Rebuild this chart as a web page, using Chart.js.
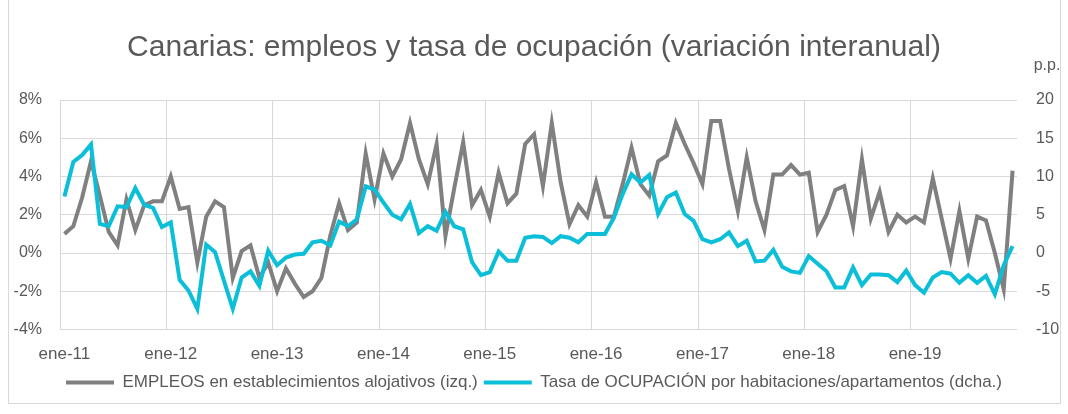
<!DOCTYPE html>
<html>
<head>
<meta charset="utf-8">
<script src="https://cdn.jsdelivr.net/npm/chart.js@4.4.1/dist/chart.umd.min.js"></script>
<style>
  html, body { margin: 0; padding: 0; background: #fff; }
  #wrap { position: relative; width: 1068px; height: 414px; }
  #frame { position: absolute; left: 8px; top: -2px; width: 1051px; height: 404px; border: 1px solid #d9d9d9; pointer-events: none; }
</style>
</head>
<body>
<div id="wrap">
  <canvas id="chart" width="1068" height="414"></canvas>
  <div id="frame"></div>
</div>
<script>
const month_names = ['ene', 'feb', 'mar', 'abr', 'may', 'jun', 'jul', 'ago', 'sep', 'oct', 'nov', 'dic']
const years = ['11', '12', '13', '14', '15', '16', '17', '18', '19']

// EMPLEOS en establecimientos alojativos, % interanual (eje izq.)
const empleos = [
	1.0, 1.4, 2.9, 4.8, 3.0, 1.1, 0.4, 2.8, 1.2, 2.5, 2.7, 2.7,
	4.0, 2.3, 2.4, -0.5, 1.9, 2.7, 2.4, -1.3, 0.1, 0.4, -1.3, -0.5,
	-2.0, -0.8, -1.6, -2.3, -2.0, -1.3, 0.9, 2.6, 1.2, 1.6, 5.2, 2.8,
	5.2, 4.0, 4.9, 6.8, 4.9, 3.6, 5.7, 0.9, 3.4, 5.8, 2.5, 3.3,
	1.9, 4.2, 2.6, 3.1, 5.7, 6.2, 3.5, 6.8, 3.7, 1.5, 2.5, 1.9,
	3.7, 1.9, 1.9, 3.6, 5.5, 3.6, 3.0, 4.8, 5.1, 6.8, 5.7, 4.7,
	3.6, 6.9, 6.9, 4.4, 2.2, 5.0, 2.7, 1.2, 4.1, 4.1, 4.6, 4.1,
	4.2, 1.1, 2.0, 3.3, 3.5, 1.4, 4.9, 1.8, 3.2, 1.1, 2.0, 1.6,
	1.9, 1.6, 3.9, 1.8, -0.3, 2.2, -0.3, 1.9, 1.7, 0.0, -1.9, 4.3
]

// Tasa de OCUPACIÓN por habitaciones/apartamentos, p.p. (eje dcha.)
const ocupacion = [
	7.4, 11.9, 12.8, 14.2, 3.8, 3.5, 6.1, 6.0, 8.5, 6.3, 5.9, 3.4,
	4.0, -3.5, -4.9, -7.3, 1.1, 0.1, -3.6, -7.3, -3.2, -2.4, -4.3, 0.3,
	-1.6, -0.6, -0.2, -0.1, 1.4, 1.6, 1.0, 4.1, 3.5, 4.4, 8.7, 8.3,
	6.6, 5.0, 4.4, 6.4, 2.6, 3.5, 2.9, 5.4, 3.5, 3.1, -1.2, -2.9,
	-2.5, 0.2, -1.0, -1.0, 2.0, 2.2, 2.1, 1.3, 2.2, 2.0, 1.4, 2.5,
	2.5, 2.5, 4.6, 7.7, 10.3, 9.2, 10.2, 5.1, 7.3, 7.9, 5.1, 4.2,
	1.8, 1.4, 1.8, 2.7, 0.9, 1.6, -1.1, -1.0, 0.4, -1.8, -2.4, -2.6,
	-0.4, -1.4, -2.4, -4.5, -4.5, -1.9, -4.2, -2.8, -2.8, -2.9, -3.8, -2.3,
	-4.2, -5.2, -3.2, -2.5, -2.7, -3.9, -2.9, -3.9, -3.0, -5.4, -1.6, 0.9
]

const labels = []
years.forEach(y => month_names.forEach(m => labels.push(`${m}-${y}`)))

const gray = '#808080'
const cyan = '#0bbfd8'
const text_color = '#595959'
const grid_color = '#d9d9d9'
const font_family = '"Liberation Sans", Arial, sans-serif'

// "p.p." sobre el eje derecho
const ppLabel = {
	id: 'ppLabel',
	afterDraw(chart) {
		const ctx = chart.ctx
		const y1 = chart.scales.y1
		ctx.save()
		ctx.fillStyle = text_color
		ctx.font = `16px ${font_family}`
		ctx.textAlign = 'center'
		ctx.textBaseline = 'middle'
		ctx.fillText('p.p.', y1.left + 30, 66)
		ctx.restore()
	}
}

new Chart(document.getElementById('chart'), {
	type: 'line',
	data: {
		labels,
		datasets: [
			{
				label: 'EMPLEOS en establecimientos alojativos (izq.)',
				data: empleos,
				yAxisID: 'y',
				borderColor: gray,
				backgroundColor: gray,
				borderWidth: 4,
				pointRadius: 0,
				tension: 0,
				order: 2
			},
			{
				label: 'Tasa de OCUPACIÓN por habitaciones/apartamentos (dcha.)',
				data: ocupacion,
				yAxisID: 'y1',
				borderColor: cyan,
				backgroundColor: cyan,
				borderWidth: 4,
				pointRadius: 0,
				tension: 0,
				order: 1
			}
		]
	},
	options: {
		responsive: false,
		animation: false,
		layout: { padding: { top: 0, bottom: 13, left: 0, right: 0 } },
		plugins: {
			title: {
				display: true,
				text: 'Canarias: empleos y tasa de ocupación (variación interanual)',
				color: text_color,
				font: { family: font_family, size: 30, weight: 'normal' },
				padding: { top: 30, bottom: 34 }
			},
			legend: {
				position: 'bottom',
				labels: {
					color: text_color,
					font: { family: font_family, size: 17 },
					boxWidth: 48,
					boxHeight: 4,
					padding: 6,
					sort: (a, b) => a.datasetIndex - b.datasetIndex,
					generateLabels(chart) {
						return Chart.defaults.plugins.legend.labels.generateLabels(chart).map(l => {
							l.lineWidth = 0
							return l
						})
					}
				}
			},
			tooltip: { enabled: false }
		},
		scales: {
			x: {
				type: 'category',
				offset: true,
				grid: {
					offset: true,
					drawTicks: false,
					color: ctx => (ctx.index % 12 === 0 ? grid_color : 'transparent'),
					lineWidth: 1
				},
				border: { display: false },
				ticks: {
					autoSkip: false,
					maxRotation: 0,
					padding: 15,
					color: text_color,
					font: { family: font_family, size: 17 },
					callback: function(v, i) { return i % 12 === 0 ? this.getLabelForValue(v) : '' }
				},
				afterFit: s => { s.height = 38.5 }
			},
			y: {
				position: 'left',
				min: -4,
				max: 8,
				grid: { color: grid_color, lineWidth: 1, drawTicks: false },
				border: { display: false },
				ticks: {
					stepSize: 2,
					padding: 18,
					color: text_color,
					font: { family: font_family, size: 16 },
					callback: v => v + '%'
				},
				afterFit: s => { s.width = 60 }
			},
			y1: {
				position: 'right',
				min: -10,
				max: 20,
				grid: { drawOnChartArea: false, drawTicks: false },
				border: { display: false },
				ticks: {
					stepSize: 5,
					padding: 19,
					color: text_color,
					font: { family: font_family, size: 16 }
				},
				afterFit: s => { s.width = 51 }
			}
		}
	},
	plugins: [ppLabel]
})
</script>
</body>
</html>
